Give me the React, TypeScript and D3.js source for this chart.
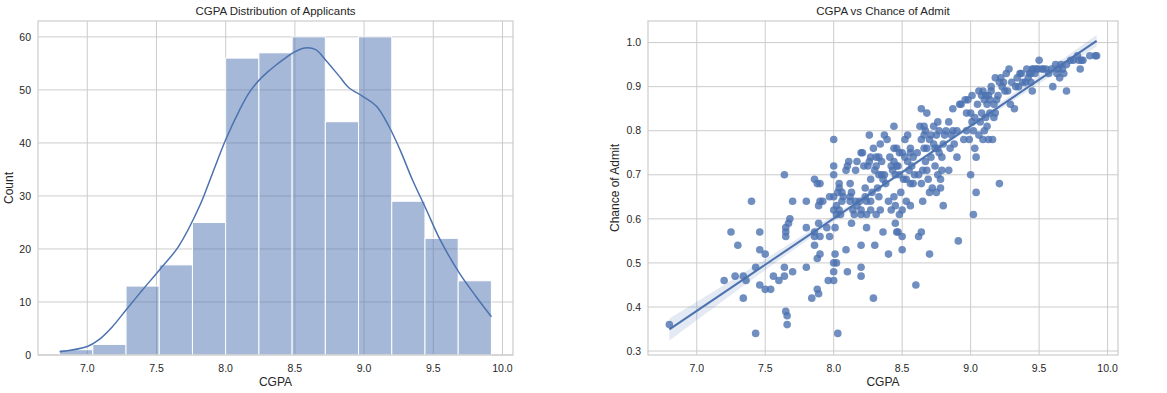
import React from "react";
import * as d3 from "d3";

// ---------- Data ----------
const binEdges = [6.8, 7.04, 7.28, 7.52, 7.76, 8.0, 8.24, 8.48, 8.72, 8.96, 9.2, 9.44, 9.68, 9.92];
const binCounts = [1, 2, 13, 17, 25, 56, 57, 60, 44, 60, 29, 22, 14];

const kdeX = [6.8, 7.0, 7.08, 7.18, 7.28, 7.4, 7.52, 7.66, 7.81, 7.905, 8.0, 8.1, 8.17, 8.24, 8.3, 8.36, 8.42, 8.48, 8.57, 8.65, 8.72, 8.82, 8.89, 8.99, 9.09, 9.18, 9.26, 9.35, 9.45, 9.55, 9.69, 9.81, 9.92];
const kdeY = [0.6, 1.6, 2.8, 5.3, 8.5, 12.3, 16, 20.5, 28, 34.3, 40.6, 46.2, 49.5, 51.8, 53.3, 54.6, 55.8, 56.9, 57.9, 57.6, 55.7, 52.6, 50.4, 48.8, 46.9, 43.1, 38.7, 33, 27.4, 21.7, 15.4, 11, 7.2];

const xTicks = [7.0, 7.5, 8.0, 8.5, 9.0, 9.5, 10.0];
const countTicks = [0, 10, 20, 30, 40, 50, 60];
const admitTicks = [0.3, 0.4, 0.5, 0.6, 0.7, 0.8, 0.9, 1.0];

const cgpa = [
  6.80, 7.20, 7.25, 7.28, 7.30, 7.34, 7.34, 7.36, 7.40, 7.43, 7.43, 7.46, 7.46, 7.46, 7.50, 7.50, 7.54, 7.56, 7.60, 7.64,
  7.64, 7.64, 7.65, 7.65, 7.65, 7.65, 7.66, 7.66, 7.67, 7.68, 7.70, 7.70, 7.80, 7.80, 7.80, 7.84, 7.86, 7.86, 7.86, 7.86,
  7.88, 7.88, 7.88, 7.89, 7.89, 7.89, 7.90, 7.90, 7.90, 7.90, 7.92, 7.95, 7.96, 7.97, 7.97, 8.00, 8.00, 8.00, 8.00, 8.00,
  8.00, 8.00, 8.00, 8.01, 8.01, 8.02, 8.02, 8.03, 8.03, 8.04, 8.04, 8.04, 8.05, 8.06, 8.07, 8.09, 8.09, 8.10, 8.10, 8.11,
  8.12, 8.12, 8.12, 8.13, 8.13, 8.14, 8.15, 8.16, 8.16, 8.17, 8.17, 8.19, 8.20, 8.20, 8.20, 8.20, 8.20, 8.20, 8.21, 8.22,
  8.23, 8.23, 8.24, 8.24, 8.24, 8.25, 8.26, 8.26, 8.27, 8.27, 8.27, 8.27, 8.28, 8.29, 8.29, 8.30, 8.31, 8.31, 8.31, 8.32,
  8.33, 8.33, 8.33, 8.34, 8.34, 8.35, 8.36, 8.36, 8.37, 8.37, 8.39, 8.40, 8.40, 8.41, 8.42, 8.42, 8.43, 8.44, 8.44, 8.44,
  8.44, 8.45, 8.45, 8.45, 8.46, 8.46, 8.46, 8.47, 8.48, 8.48, 8.48, 8.49, 8.50, 8.50, 8.50, 8.50, 8.51, 8.52, 8.53, 8.53,
  8.54, 8.54, 8.55, 8.56, 8.56, 8.56, 8.56, 8.58, 8.58, 8.59, 8.60, 8.62, 8.62, 8.63, 8.64, 8.64, 8.64, 8.64, 8.65, 8.65,
  8.66, 8.66, 8.67, 8.67, 8.68, 8.68, 8.68, 8.69, 8.70, 8.70, 8.70, 8.71, 8.72, 8.73, 8.73, 8.74, 8.75, 8.75, 8.76, 8.76,
  8.76, 8.77, 8.77, 8.78, 8.78, 8.79, 8.79, 8.80, 8.80, 8.81, 8.84, 8.84, 8.85, 8.87, 8.87, 8.88, 8.90, 8.90, 8.91, 8.93,
  8.95, 8.96, 8.97, 8.97, 8.98, 8.99, 9.00, 9.00, 9.01, 9.02, 9.02, 9.03, 9.03, 9.04, 9.04, 9.05, 9.06, 9.06, 9.07, 9.08,
  9.08, 9.09, 9.09, 9.10, 9.10, 9.11, 9.12, 9.12, 9.13, 9.13, 9.14, 9.14, 9.15, 9.16, 9.17, 9.17, 9.18, 9.18, 9.19, 9.20,
  9.21, 9.22, 9.23, 9.24, 9.25, 9.26, 9.27, 9.28, 9.29, 9.30, 9.32, 9.33, 9.34, 9.35, 9.36, 9.37, 9.38, 9.40, 9.41, 9.42,
  9.43, 9.44, 9.45, 9.45, 9.46, 9.47, 9.48, 9.49, 9.50, 9.52, 9.53, 9.55, 9.57, 9.59, 9.60, 9.62, 9.63, 9.64, 9.65, 9.66,
  9.67, 9.68, 9.70, 9.70, 9.73, 9.75, 9.78, 9.79, 9.80, 9.81, 9.82, 9.87, 9.91, 9.92,
  8.02, 8.06, 8.30, 8.35, 8.38, 8.47, 8.52, 8.57, 8.61, 8.66, 8.71, 8.74, 8.82, 8.86, 8.92, 9.01, 9.11, 9.15, 9.21, 9.44
];
const admit = [
  0.36, 0.46, 0.57, 0.47, 0.54, 0.47, 0.42, 0.46, 0.64, 0.49, 0.34, 0.57, 0.53, 0.45, 0.52, 0.44, 0.44, 0.47, 0.46, 0.70,
  0.49, 0.47, 0.58, 0.57, 0.56, 0.39, 0.38, 0.36, 0.59, 0.60, 0.64, 0.48, 0.64, 0.58, 0.49, 0.42, 0.69, 0.54, 0.57, 0.56,
  0.68, 0.51, 0.44, 0.43, 0.63, 0.59, 0.56, 0.68, 0.64, 0.52, 0.64, 0.58, 0.46, 0.56, 0.65, 0.78, 0.72, 0.70, 0.65, 0.62,
  0.50, 0.48, 0.46, 0.52, 0.58, 0.63, 0.50, 0.34, 0.66, 0.67, 0.68, 0.62, 0.61, 0.64, 0.65, 0.71, 0.53, 0.48, 0.72, 0.73,
  0.68, 0.65, 0.64, 0.59, 0.66, 0.62, 0.61, 0.71, 0.64, 0.73, 0.63, 0.64, 0.75, 0.54, 0.49, 0.47, 0.62, 0.61, 0.75, 0.72,
  0.67, 0.65, 0.64, 0.58, 0.61, 0.72, 0.79, 0.73, 0.74, 0.69, 0.64, 0.62, 0.66, 0.76, 0.42, 0.54, 0.74, 0.72, 0.61, 0.67,
  0.65, 0.70, 0.74, 0.77, 0.62, 0.70, 0.57, 0.69, 0.79, 0.70, 0.78, 0.64, 0.52, 0.74, 0.72, 0.62, 0.71, 0.81, 0.76, 0.73,
  0.65, 0.63, 0.59, 0.70, 0.76, 0.72, 0.57, 0.57, 0.70, 0.61, 0.75, 0.66, 0.62, 0.56, 0.53, 0.75, 0.69, 0.78, 0.64, 0.69,
  0.73, 0.79, 0.71, 0.76, 0.63, 0.75, 0.68, 0.74, 0.68, 0.70, 0.45, 0.56, 0.70, 0.81, 0.78, 0.68, 0.57, 0.85, 0.71, 0.64,
  0.76, 0.81, 0.80, 0.73, 0.84, 0.76, 0.71, 0.69, 0.52, 0.66, 0.78, 0.74, 0.67, 0.81, 0.77, 0.72, 0.79, 0.66, 0.70, 0.76,
  0.82, 0.80, 0.75, 0.67, 0.69, 0.71, 0.74, 0.63, 0.77, 0.79, 0.71, 0.82, 0.76, 0.85, 0.80, 0.77, 0.74, 0.80, 0.55, 0.86,
  0.78, 0.87, 0.84, 0.80, 0.87, 0.78, 0.70, 0.84, 0.82, 0.61, 0.80, 0.83, 0.76, 0.66, 0.74, 0.86, 0.79, 0.89, 0.82, 0.88,
  0.84, 0.89, 0.78, 0.80, 0.87, 0.83, 0.86, 0.81, 0.88, 0.78, 0.84, 0.87, 0.90, 0.78, 0.86, 0.83, 0.84, 0.92, 0.87, 0.88,
  0.68, 0.92, 0.90, 0.91, 0.89, 0.93, 0.89, 0.94, 0.86, 0.91, 0.85, 0.90, 0.92, 0.90, 0.93, 0.93, 0.91, 0.91, 0.94, 0.92,
  0.93, 0.91, 0.94, 0.89, 0.94, 0.93, 0.94, 0.94, 0.96, 0.94, 0.94, 0.94, 0.93, 0.94, 0.90, 0.95, 0.93, 0.94, 0.92, 0.95,
  0.94, 0.93, 0.89, 0.95, 0.96, 0.96, 0.97, 0.96, 0.94, 0.96, 0.96, 0.97, 0.97, 0.97,
  0.61, 0.66, 0.71, 0.73, 0.68, 0.72, 0.74, 0.72, 0.75, 0.79, 0.79, 0.76, 0.80, 0.79, 0.86, 0.88, 0.88, 0.89, 0.91, 0.93
];

const regX = [6.8, 9.92];
const regY = [0.349, 1.004];
const ciX = [6.8, 7.2, 7.6, 8.0, 8.4, 8.8, 9.2, 9.6, 9.92];
const ciLow = [0.324, 0.416, 0.506, 0.594, 0.680, 0.764, 0.846, 0.927, 0.991];
const ciHigh = [0.374, 0.450, 0.528, 0.608, 0.690, 0.774, 0.860, 0.947, 1.017];

// ---------- Styles ----------
const BLUE = "#4c72b0";
const GRID = "#cccccc";
const TEXT = "#262626";
const FONT = "'Liberation Sans', Arial, sans-serif";

const L = { x0: 38, x1: 513, y0: 21, y1: 355 };
const R = { x0: 648, x1: 1118, y0: 21, y1: 355 };

export default function App() {
  const xL = d3.scaleLinear().domain([6.644, 10.076]).range([L.x0, L.x1]);
  const yL = d3.scaleLinear().domain([0, 63]).range([L.y1, L.y0]);
  const xR = d3.scaleLinear().domain([6.644, 10.076]).range([R.x0, R.x1]);
  const yR = d3.scaleLinear().domain([0.291, 1.049]).range([R.y1, R.y0]);

  const kdePath = d3
    .line<number>()
    .x((_, i) => xL(kdeX[i]))
    .y((d) => yL(d))
    .curve(d3.curveCatmullRom.alpha(0.5))(kdeY) as string;

  const regPath = d3
    .line<number>()
    .x((_, i) => xR(regX[i]))
    .y((d) => yR(d))(regY) as string;

  const ciPath = d3
    .area<number>()
    .x((_, i) => xR(ciX[i]))
    .y0((_, i) => yR(ciLow[i]))
    .y1((_, i) => yR(ciHigh[i]))
    .curve(d3.curveMonotoneX)(ciX) as string;

  const fmt1 = d3.format(".1f");

  const frame = (P: typeof L) => (
    <rect x={P.x0} y={P.y0} width={P.x1 - P.x0} height={P.y1 - P.y0} fill="none" stroke={GRID} strokeWidth={1.2} />
  );

  return (
    <svg width={1167} height={393} style={{ position: "absolute", left: 0, top: 0, background: "#fff" }} fontFamily={FONT}>
      <rect width={1167} height={393} fill="#fff" />

      {/* ---------- Left: histogram ---------- */}
      <g>
        {xTicks.map((t) => (
          <line key={"lgx" + t} x1={xL(t)} x2={xL(t)} y1={L.y0} y2={L.y1} stroke={GRID} strokeWidth={1} />
        ))}
        {countTicks.map((t) => (
          <line key={"lgy" + t} x1={L.x0} x2={L.x1} y1={yL(t)} y2={yL(t)} stroke={GRID} strokeWidth={1} />
        ))}
        {binCounts.map((c, i) => (
          <rect
            key={"bar" + i}
            x={xL(binEdges[i])}
            y={yL(c)}
            width={xL(binEdges[i + 1]) - xL(binEdges[i])}
            height={yL(0) - yL(c)}
            fill={BLUE}
            fillOpacity={0.5}
            stroke="#ffffff"
            strokeWidth={1}
          />
        ))}
        <path d={kdePath} fill="none" stroke={BLUE} strokeWidth={1.5} />
        {frame(L)}
        {xTicks.map((t) => (
          <text key={"ltx" + t} x={xL(t)} y={372} fontSize={10.5} fill={TEXT} textAnchor="middle">
            {fmt1(t)}
          </text>
        ))}
        {countTicks.map((t) => (
          <text key={"lty" + t} x={31} y={yL(t) + 3.7} fontSize={10.5} fill={TEXT} textAnchor="end">
            {t}
          </text>
        ))}
        <text x={(L.x0 + L.x1) / 2} y={386} fontSize={12} fill={TEXT} textAnchor="middle">CGPA</text>
        <text transform={`translate(13,${(L.y0 + L.y1) / 2}) rotate(-90)`} fontSize={12} fill={TEXT} textAnchor="middle">Count</text>
        <text x={(L.x0 + L.x1) / 2} y={15} fontSize={11.5} fill={TEXT} textAnchor="middle">CGPA Distribution of Applicants</text>
      </g>

      {/* ---------- Right: scatter + regression ---------- */}
      <g>
        {xTicks.map((t) => (
          <line key={"rgx" + t} x1={xR(t)} x2={xR(t)} y1={R.y0} y2={R.y1} stroke={GRID} strokeWidth={1} />
        ))}
        {admitTicks.map((t) => (
          <line key={"rgy" + t} x1={R.x0} x2={R.x1} y1={yR(t)} y2={yR(t)} stroke={GRID} strokeWidth={1} />
        ))}
        {cgpa.map((c, i) => (
          <circle key={"pt" + i} cx={xR(c)} cy={yR(admit[i])} r={3.8} fill={BLUE} fillOpacity={0.8} />
        ))}
        <path d={ciPath} fill={BLUE} fillOpacity={0.15} stroke="none" />
        <path d={regPath} fill="none" stroke={BLUE} strokeWidth={2} />
        {frame(R)}
        {xTicks.map((t) => (
          <text key={"rtx" + t} x={xR(t)} y={372} fontSize={10.5} fill={TEXT} textAnchor="middle">
            {fmt1(t)}
          </text>
        ))}
        {admitTicks.map((t) => (
          <text key={"rty" + t} x={641} y={yR(t) + 3.7} fontSize={10.5} fill={TEXT} textAnchor="end">
            {fmt1(t)}
          </text>
        ))}
        <text x={(R.x0 + R.x1) / 2} y={386} fontSize={12} fill={TEXT} textAnchor="middle">CGPA</text>
        <text transform={`translate(619,${(R.y0 + R.y1) / 2}) rotate(-90)`} fontSize={12} fill={TEXT} textAnchor="middle">Chance of Admit</text>
        <text x={(R.x0 + R.x1) / 2} y={15} fontSize={11.5} fill={TEXT} textAnchor="middle">CGPA vs Chance of Admit</text>
      </g>
    </svg>
  );
}
